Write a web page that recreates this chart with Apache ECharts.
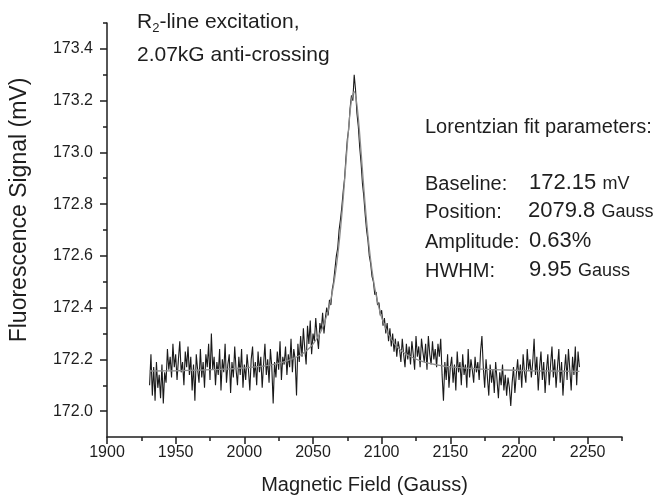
<!DOCTYPE html>
<html>
<head>
<meta charset="utf-8">
<script src="https://cdn.jsdelivr.net/npm/echarts@6/dist/echarts.min.js"></script>
<style>
html,body{margin:0;padding:0;background:#fff;}
#chart{width:665px;height:501px;}
</style>
</head>
<body>
<div id="chart"></div>
<script>
// field axis: one reading per Gauss starting at fieldStart
var fieldStart = 1931;
var fieldStep = 1;
var signal = [
	172.10,172.22,172.06,172.17,172.04,172.19,172.09,172.14,172.05,172.18,
	172.03,172.15,172.11,172.24,172.16,172.21,172.13,172.26,172.17,172.22,
	172.12,172.20,172.27,172.15,172.19,172.10,172.23,172.17,172.25,172.14,
	172.21,172.08,172.18,172.04,172.22,172.16,172.11,172.24,172.13,172.19,
	172.09,172.22,172.17,172.26,172.12,172.30,172.16,172.21,172.10,172.19,
	172.14,172.24,172.08,172.20,172.15,172.26,172.11,172.18,172.22,172.07,
	172.19,172.13,172.25,172.16,172.10,172.21,172.14,172.24,172.09,172.18,
	172.12,172.22,172.16,172.08,172.20,172.25,172.13,172.19,172.10,172.23,
	172.15,172.21,172.09,172.18,172.26,172.14,172.20,172.11,172.24,172.17,
	172.03,172.19,172.13,172.23,172.16,172.27,172.12,172.21,172.18,172.25,
	172.14,172.22,172.17,172.28,172.15,172.24,172.20,172.06,172.26,172.19,
	172.29,172.21,172.32,172.24,172.18,172.33,172.26,172.35,172.22,172.30,
	172.27,172.36,172.29,172.24,172.34,172.31,172.38,172.30,172.36,172.40,
	172.37,172.43,172.41,172.47,172.50,172.55,172.60,172.63,172.70,172.74,
	172.79,172.85,172.90,172.98,173.05,173.09,173.17,173.22,173.20,173.30,
	173.24,173.15,173.10,173.02,172.96,172.88,172.83,172.76,172.70,172.66,
	172.60,172.57,172.52,172.50,172.45,172.46,172.41,172.42,172.37,172.39,
	172.33,172.36,172.30,172.34,172.27,172.32,172.25,172.30,172.23,172.28,
	172.21,172.27,172.24,172.19,172.28,172.22,172.17,172.26,172.20,172.25,
	172.18,172.27,172.22,172.16,172.29,172.21,172.25,172.17,172.28,172.23,
	172.19,172.26,172.16,172.29,172.22,172.18,172.27,172.20,172.24,172.17,
	172.26,172.21,172.28,172.14,172.04,172.19,172.12,172.22,172.09,172.17,
	172.21,172.11,172.18,172.08,172.23,172.15,172.19,172.10,172.22,172.14,
	172.18,172.09,172.24,172.13,172.20,172.16,172.11,172.21,172.15,172.19,
	172.12,172.23,172.29,172.17,172.09,172.20,172.13,172.06,172.18,172.11,
	172.16,172.07,172.19,172.12,172.05,172.15,172.10,172.18,172.08,172.14,
	172.06,172.13,172.09,172.02,172.11,172.17,172.07,172.14,172.20,172.12,
	172.18,172.09,172.22,172.15,172.11,172.24,172.16,172.20,172.13,172.19,
	172.28,172.14,172.21,172.08,172.17,172.23,172.12,172.19,172.07,172.16,
	172.22,172.10,172.18,172.25,172.13,172.20,172.09,172.17,172.24,172.11,
	172.19,172.06,172.15,172.22,172.12,172.24,172.16,172.08,172.21,172.14,
	172.25,172.10,172.23,172.17
];

// lorentzian fit curve (grey)
var fitField = [1931,1950,1970,1990,2000,2010,2020,2030,2040,2045,2050,2055,2058,2060,2062,2064,2066,2068,2070,2072,2074,2076,2078,2080,2082,2084,2086,2088,2090,2092,2094,2096,2098,2100,2105,2110,2115,2120,2130,2140,2150,2170,2190,2210,2244];
var fitSignal = [172.155,172.156,172.159,172.163,172.167,172.172,172.179,172.192,172.214,172.232,172.259,172.300,172.337,172.369,172.408,172.458,172.521,172.601,172.701,172.822,172.960,173.097,173.201,173.235,173.184,173.071,172.932,172.796,172.679,172.584,172.507,172.447,172.400,172.362,172.296,172.256,172.230,172.213,172.191,172.179,172.171,172.163,172.159,172.156,172.154];

var xTicks = [1900,1950,2000,2050,2100,2150,2200,2250];
var xMinor = [1925,1975,2025,2075,2125,2175,2225,2275];
var yTicks = [172.0,172.2,172.4,172.6,172.8,173.0,173.2,173.4];
var yMinor = [172.1,172.3,172.5,172.7,172.9,173.1,173.3,173.5];

var FONT = '"Liberation Sans", Arial, sans-serif';
var INK = '#1e1e1e';

var rawData = signal.map(function(v, i){ return [fieldStart + i*fieldStep, v]; });
var fitData = fitField.map(function(x, i){ return [x, fitSignal[i]]; });

function xAxisDef(major){
	return {
		type:'value', min:1900, max:2275, position:'bottom',
		axisLine:{show:major, lineStyle:{color:INK, width:1.5}},
		axisTick:{show:true, inside:false, length:major?7:4, customValues:major?xTicks:xMinor, lineStyle:{color:INK, width:1.5}},
		axisLabel:{show:major, customValues:xTicks, fontFamily:FONT, fontSize:16, color:INK, margin:8,
			formatter:function(v){ return String(v); }},
		splitLine:{show:false},
		name:major?'Magnetic Field (Gauss)':'', nameLocation:'middle', nameGap:38,
		nameTextStyle:{fontFamily:FONT, fontSize:20, color:INK}
	};
}
function yAxisDef(major){
	return {
		type:'value', min:171.9, max:173.5, position:'left',
		axisLine:{show:major, lineStyle:{color:INK, width:1.5}},
		axisTick:{show:true, inside:false, length:major?7:4, customValues:major?yTicks:yMinor, lineStyle:{color:INK, width:1.5}},
		axisLabel:{show:major, customValues:yTicks, fontFamily:FONT, fontSize:16, color:INK, margin:14,
			formatter:function(v){ return v.toFixed(1); }},
		splitLine:{show:false}
	};
}

var valueRich = {
	n:{fontSize:22, fontFamily:FONT, fill:INK, verticalAlign:'bottom'},
	u:{fontSize:18, fontFamily:FONT, fill:INK, verticalAlign:'bottom', padding:[0,0,1,0]}
};
var labelFont = '20px ' + FONT;

var chart = echarts.init(document.getElementById('chart'));
chart.setOption({
	animation:false,
	backgroundColor:'#fff',
	grid:{left:107, right:43, top:23, bottom:64},
	xAxis:[xAxisDef(true), xAxisDef(false)],
	yAxis:[yAxisDef(true), yAxisDef(false)],
	series:[{
		type:'line', data:rawData, showSymbol:false, symbol:'none',
		lineStyle:{color:'#1a1a1a', width:1.1}
	},{
		type:'line', data:fitData, showSymbol:false, symbol:'none', smooth:0.3,
		lineStyle:{color:'#8c8c8c', width:1.3}
	}],
	graphic:[
		// y axis title sits above the plot centre in the original
		{type:'text', x:20, y:210, rotation:Math.PI/2, style:{
			text:'Fluorescence Signal (mV)', font:'23px '+FONT, fill:INK,
			textAlign:'center', textVerticalAlign:'middle'
		}},
		{type:'text', left:137, top:6, style:{
			text:'R{sub|2}-line excitation,\n2.07kG anti-crossing',
			font:'21px '+FONT, fill:INK, lineHeight:33,
			rich:{sub:{fontSize:13, fontFamily:FONT, fill:INK, padding:[12,0,0,0]}}
		}},
		{type:'text', left:425, top:117, style:{text:'Lorentzian fit parameters:', font:labelFont, fill:INK}},
		{type:'text', left:425, top:174, style:{text:'Baseline:', font:labelFont, fill:INK}},
		{type:'text', left:425, top:202, style:{text:'Position:', font:labelFont, fill:INK}},
		{type:'text', left:425, top:232, style:{text:'Amplitude:', font:labelFont, fill:INK}},
		{type:'text', left:425, top:261, style:{text:'HWHM:', font:labelFont, fill:INK}},
		{type:'text', left:529, top:172, style:{text:'{n|172.15} {u|mV}', font:'22px '+FONT, fill:INK, rich:valueRich}},
		{type:'text', left:528, top:200, style:{text:'{n|2079.8} {u|Gauss}', font:'22px '+FONT, fill:INK, rich:valueRich}},
		{type:'text', left:529, top:230, style:{text:'{n|0.63%}', font:'22px '+FONT, fill:INK, rich:valueRich}},
		{type:'text', left:529, top:259, style:{text:'{n|9.95} {u|Gauss}', font:'22px '+FONT, fill:INK, rich:valueRich}}
	]
});
</script>
</body>
</html>
